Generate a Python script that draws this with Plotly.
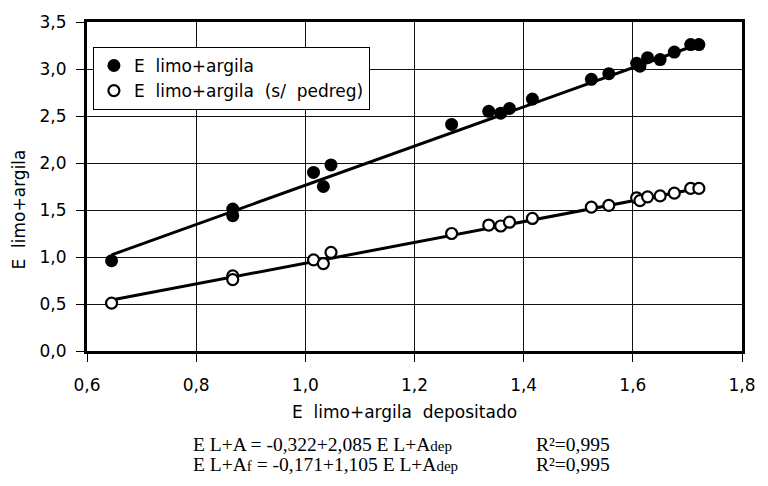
import plotly.graph_objects as go
import numpy as np

# ---- data ----
x_dep = [0.645, 0.867, 0.867, 1.015, 1.033, 1.047, 1.268, 1.336, 1.358, 1.374,
         1.416, 1.524, 1.556, 1.607, 1.613, 1.627, 1.650, 1.676, 1.706, 1.721]
y_la = [0.96, 1.51, 1.44, 1.90, 1.75, 1.98, 2.41, 2.55, 2.53, 2.58,
        2.68, 2.89, 2.95, 3.06, 3.03, 3.12, 3.10, 3.18, 3.26, 3.26]
y_la_sp = [0.51, 0.80, 0.76, 0.97, 0.93, 1.05, 1.25, 1.34, 1.33, 1.37,
           1.41, 1.53, 1.55, 1.63, 1.60, 1.64, 1.65, 1.68, 1.73, 1.73]
fit_la = (-0.322, 2.085)
fit_la_sp = (-0.171, 1.105)
x_ticks = [0.6, 0.8, 1.0, 1.2, 1.4, 1.6, 1.8]
x_ticklabels = ["0,6", "0,8", "1,0", "1,2", "1,4", "1,6", "1,8"]
y_ticks = [0.0, 0.5, 1.0, 1.5, 2.0, 2.5, 3.0, 3.5]
y_ticklabels = ["0,0", "0,5", "1,0", "1,5", "2,0", "2,5", "3,0", "3,5"]
name_la = "E  limo+argila"
name_la_sp = "E  limo+argila  (s/  pedreg)"
x_title = "E  limo+argila  depositado"
y_title = "E  limo+argila"
eq1 = "E L+A = -0,322+2,085 E L+A<span style='font-size:15px'>dep</span>"
eq2 = "E L+A<span style='font-size:15px'>f</span> = -0,171+1,105 E L+A<span style='font-size:15px'>dep</span>"
r2_1 = "R²=0,995"
r2_2 = "R²=0,995"

# ---- layout geometry (pixels) ----
W, H = 768, 486
L, R, T, B = 87, 752, 21, 351
SANS = "DejaVu Sans, Arial"
SERIF = "Liberation Serif, Times New Roman"
def px(x):
    return (x - L) / (R - L)
def py(y):
    return (B - y) / (B - T)

xf = np.array([min(x_dep), max(x_dep)])

fig = go.Figure()
fig.add_trace(go.Scatter(x=xf, y=fit_la[0] + fit_la[1] * xf, mode="lines",
                         line=dict(color="black", width=3), showlegend=False,
                         hoverinfo="skip"))
fig.add_trace(go.Scatter(x=xf, y=fit_la_sp[0] + fit_la_sp[1] * xf, mode="lines",
                         line=dict(color="black", width=3), showlegend=False,
                         hoverinfo="skip"))
fig.add_trace(go.Scatter(x=x_dep, y=y_la, mode="markers", name=name_la,
                         marker=dict(symbol="circle", size=13, color="black",
                                     line=dict(color="black", width=0))))
fig.add_trace(go.Scatter(x=x_dep, y=y_la_sp, mode="markers", name=name_la_sp,
                         marker=dict(symbol="circle", size=11, color="white",
                                     line=dict(color="black", width=2.2))))

axis_common = dict(showline=True, linecolor="black", linewidth=3, mirror=True,
                   showgrid=True, gridcolor="#111", gridwidth=1,
                   ticks="outside", ticklen=8, tickcolor="black", tickwidth=1,
                   zeroline=False,
                   tickfont=dict(family=SANS, size=17, color="black"))

fig.update_xaxes(range=[0.6, 1.8], tickvals=x_ticks, ticktext=x_ticklabels,
                 ticklabelstandoff=9, **axis_common)
fig.update_yaxes(range=[0, 3.5], tickvals=y_ticks, ticktext=y_ticklabels,
                 ticklabelstandoff=6, **axis_common)

annotations = [
    dict(text=x_title, x=px(409), y=py(412), xref="paper", yref="paper",
         showarrow=False, xanchor="center", yanchor="middle",
         font=dict(family=SANS, size=17, color="black")),
    dict(text=y_title, x=px(18), y=py(209), xref="paper", yref="paper",
         showarrow=False, xanchor="center", yanchor="middle", textangle=-90,
         font=dict(family=SANS, size=17, color="black")),
    dict(text=eq1, x=px(193), y=py(445), xref="paper", yref="paper",
         showarrow=False, xanchor="left", yanchor="middle",
         font=dict(family=SERIF, size=19.5, color="black")),
    dict(text=eq2, x=px(193), y=py(465), xref="paper", yref="paper",
         showarrow=False, xanchor="left", yanchor="middle",
         font=dict(family=SERIF, size=19.5, color="black")),
    dict(text=r2_1, x=px(541), y=py(445), xref="paper", yref="paper",
         showarrow=False, xanchor="left", yanchor="middle",
         font=dict(family=SERIF, size=19.5, color="black")),
    dict(text=r2_2, x=px(541), y=py(465), xref="paper", yref="paper",
         showarrow=False, xanchor="left", yanchor="middle",
         font=dict(family=SERIF, size=19.5, color="black")),
]

fig.update_layout(
    width=W, height=H,
    margin=dict(l=L, r=W - R, t=T, b=H - B, pad=0),
    paper_bgcolor="white", plot_bgcolor="white",
    showlegend=True,
    legend=dict(x=px(93), y=py(46), xanchor="left", yanchor="top",
                bgcolor="white", bordercolor="black", borderwidth=1,
                font=dict(family=SANS, size=17, color="black"),
                itemsizing="trace", tracegroupgap=0),
    annotations=annotations,
)

fig.write_html("out.html")
